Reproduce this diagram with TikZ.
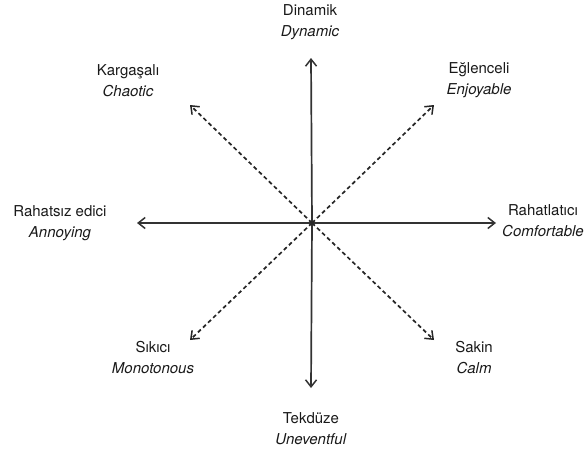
\documentclass[tikz,border=0pt]{standalone}
\usepackage{fontspec}
\setmainfont{TeX Gyre Heros}
\usetikzlibrary{arrows.meta,positioning}

\begin{document}
\begin{tikzpicture}[x=1pt, y=-1pt,
  every node/.style={font=\fontsize{15}{21}\selectfont, text=black!90},
  axislabel/.style={align=center, inner sep=0pt},
  solidaxis/.style={draw=black!80, line width=1.7pt, -{Straight Barb[length=7pt, width=11pt, line width=1.5pt]}},
  dashaxis/.style={draw=black!85, line width=1.7pt, dash pattern=on 4pt off 3pt, -{Straight Barb[length=7pt, width=11pt, line width=1.5pt]}}
]
\useasboundingbox (0,0) rectangle (585,450);

%========== CENTRE AND TIPS ==========
\coordinate (o) at (312, 223);
\coordinate (tN) at (311, 58);
\coordinate (tS) at (311, 388);
\coordinate (tW) at (137, 223);
\coordinate (tE) at (496, 223);
\coordinate (tNW) at (190, 105);
\coordinate (tNE) at (434, 105);
\coordinate (tSW) at (190, 340);
\coordinate (tSE) at (434, 340);

%========== LABELS ==========
\node[axislabel] (dyn)  at (310, 22)  {Dinamik\\\textit{Dynamic}};
\node[axislabel] (cha)  at (128, 81)  {Kargaşalı\\\textit{Chaotic}};
\node[axislabel] (enj)  at (479, 80)  {Eğlenceli\\\textit{Enjoyable}};
\node[axislabel] (ann)  at (60, 223)  {Rahatsız edici\\\textit{Annoying}};
\node[axislabel] (com)  at (543, 221) {Rahatlatıcı\\\textit{Comfortable}};
\node[axislabel] (mon)  at (153, 358) {Sıkıcı\\\textit{Monotonous}};
\node[axislabel] (calm) at (474, 358) {Sakin\\\textit{Calm}};
\node[axislabel] (unev) at (311, 429) {Tekdüze\\\textit{Uneventful}};

%========== AXES ==========
\draw[solidaxis] (o) -- (tN);
\draw[solidaxis] (o) -- (tS);
\draw[solidaxis] (o) -- (tW);
\draw[solidaxis] (o) -- (tE);

\draw[dashaxis] (o) -- (tNW);
\draw[dashaxis] (o) -- (tNE);
\draw[dashaxis] (o) -- (tSW);
\draw[dashaxis] (o) -- (tSE);

\end{tikzpicture}
\end{document}
